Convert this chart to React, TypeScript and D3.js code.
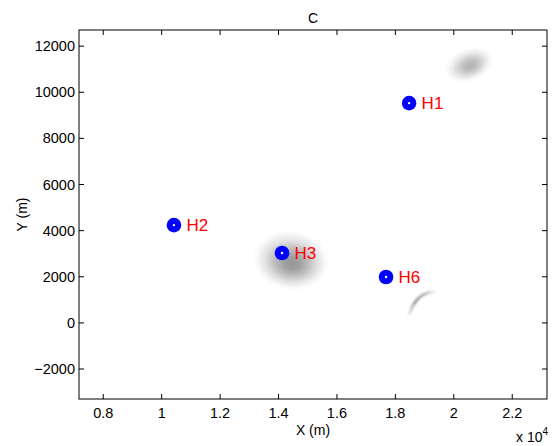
import * as d3 from 'd3'

// hydrophone / source positions in metres
const POINT_LABELS = ['H1', 'H2', 'H3', 'H6']
const POINT_X = [18470, 10420, 14120, 17680]
const POINT_Y = [9530, 4240, 3030, 1990]

// intensity blobs: centre, spread (m), peak grey, tilt (deg)
const BLOB_X = [14430, 20520]
const BLOB_Y = [2720, 11200]
const BLOB_SX = [1320, 880]
const BLOB_SY = [1300, 720]
const BLOB_PEAK = [0.56, 0.4]
const BLOB_TILT = [8, -22]

// thin crescent-shaped trace
const ARC_X = [18480, 18620, 18830, 19100, 19420]
const ARC_Y = [380, 800, 1120, 1300, 1370]

const X_TICKS = [8000, 10000, 12000, 14000, 16000, 18000, 20000, 22000]
const Y_TICKS = [-2000, 0, 2000, 4000, 6000, 8000, 10000, 12000]

const X_DOMAIN = [7170, 23190]
const Y_DOMAIN = [-3300, 12700]

export default function App() {
  const width = 555
  const height = 446
  const margin = { top: 30, right: 8, bottom: 47, left: 79 }
  const font = 'Liberation Sans, Arial, Helvetica, sans-serif'

  const x = d3.scaleLinear().domain(X_DOMAIN).range([margin.left, width - margin.right])
  const y = d3.scaleLinear().domain(Y_DOMAIN).range([height - margin.bottom, margin.top])
  const x0 = margin.left
  const x1 = width - margin.right
  const y0 = margin.top
  const y1 = height - margin.bottom
  const tick = 5

  const pxPerX = Math.abs(x(1000) - x(0)) / 1000
  const pxPerY = Math.abs(y(1000) - y(0)) / 1000

  const arcLine = d3
    .line<number>()
    .x(i => x(ARC_X[i]))
    .y(i => y(ARC_Y[i]))
    .curve(d3.curveCatmullRom.alpha(0.5))

  const arcStart = [x(ARC_X[0]), y(ARC_Y[0])]
  const arcEnd = [x(ARC_X[ARC_X.length - 1]), y(ARC_Y[ARC_Y.length - 1])]

  return (
    <svg
      width={width}
      height={height}
      style={{ position: 'absolute', left: 0, top: 0, background: '#fff' }}
      fontFamily={font}
    >
      <defs>
        {BLOB_X.map((_, i) => (
          <radialGradient key={i} id={`blob-${i}`} fx="52%" fy="56%">
            <stop offset="0%" stopColor="#444" stopOpacity={BLOB_PEAK[i]} />
            <stop offset="20%" stopColor="#444" stopOpacity={BLOB_PEAK[i] * 0.92} />
            <stop offset="45%" stopColor="#444" stopOpacity={BLOB_PEAK[i] * 0.62} />
            <stop offset="70%" stopColor="#444" stopOpacity={BLOB_PEAK[i] * 0.26} />
            <stop offset="88%" stopColor="#444" stopOpacity={BLOB_PEAK[i] * 0.07} />
            <stop offset="100%" stopColor="#444" stopOpacity={0} />
          </radialGradient>
        ))}
        <linearGradient
          id="arc-grad"
          gradientUnits="userSpaceOnUse"
          x1={arcStart[0]}
          y1={arcStart[1]}
          x2={arcEnd[0]}
          y2={arcEnd[1]}
        >
          <stop offset="0%" stopColor="#888" stopOpacity={0.2} />
          <stop offset="35%" stopColor="#888" stopOpacity={0.85} />
          <stop offset="70%" stopColor="#888" stopOpacity={0.6} />
          <stop offset="100%" stopColor="#888" stopOpacity={0} />
        </linearGradient>
        <filter id="soft" x="-50%" y="-50%" width="200%" height="200%">
          <feGaussianBlur stdDeviation="0.9" />
        </filter>
        <clipPath id="plot-clip">
          <rect x={x0} y={y0} width={x1 - x0} height={y1 - y0} />
        </clipPath>
      </defs>

      <g clipPath="url(#plot-clip)">
        {BLOB_X.map((bx, i) => (
          <ellipse
            key={`blob-${i}`}
            cx={x(bx)}
            cy={y(BLOB_Y[i])}
            rx={BLOB_SX[i] * pxPerX}
            ry={BLOB_SY[i] * pxPerY}
            fill={`url(#blob-${i})`}
            transform={`rotate(${BLOB_TILT[i]} ${x(bx)} ${y(BLOB_Y[i])})`}
          />
        ))}
        <path
          d={arcLine(d3.range(ARC_X.length)) ?? ''}
          fill="none"
          stroke="url(#arc-grad)"
          strokeWidth={3}
          strokeLinecap="round"
          filter="url(#soft)"
        />
      </g>

      {/* axes box */}
      <rect x={x0} y={y0} width={x1 - x0} height={y1 - y0} fill="none" stroke="#000" strokeWidth={1} />

      {X_TICKS.map(v => (
        <g key={`xt-${v}`}>
          <line x1={x(v)} x2={x(v)} y1={y1} y2={y1 - tick} stroke="#000" />
          <line x1={x(v)} x2={x(v)} y1={y0} y2={y0 + tick} stroke="#000" />
          <text x={x(v)} y={418} textAnchor="middle" fontSize={14.5}>
            {d3.format('~g')(v / 10000)}
          </text>
        </g>
      ))}

      {Y_TICKS.map(v => (
        <g key={`yt-${v}`}>
          <line x1={x0} x2={x0 + tick} y1={y(v)} y2={y(v)} stroke="#000" />
          <line x1={x1} x2={x1 - tick} y1={y(v)} y2={y(v)} stroke="#000" />
          <text x={x0 - 4} y={y(v) + 5} textAnchor="end" fontSize={14.5}>
            {v < 0 ? `\u2212${Math.abs(v)}` : v}
          </text>
        </g>
      ))}

      <text x={(x0 + x1) / 2} y={23} textAnchor="middle" fontSize={14}>
        C
      </text>
      <text x={(x0 + x1) / 2} y={435} textAnchor="middle" fontSize={14}>
        X (m)
      </text>
      <text
        transform={`translate(27 ${(y0 + y1) / 2}) rotate(-90)`}
        textAnchor="middle"
        fontSize={14}
      >
        Y (m)
      </text>
      <text x={516} y={442} fontSize={14}>
        x 10
        <tspan dy={-7} fontSize={10}>
          4
        </tspan>
      </text>

      {POINT_X.map((px, i) => (
        <g key={POINT_LABELS[i]}>
          <circle cx={x(px)} cy={y(POINT_Y[i])} r={7.3} fill="#0000ff" />
          <circle cx={x(px)} cy={y(POINT_Y[i])} r={1.2} fill="#fff" />
          <text
            x={x(px) + 12.5}
            y={y(POINT_Y[i]) + 6}
            fontSize={17}
            fill="#ff0000"
          >
            {POINT_LABELS[i]}
          </text>
        </g>
      ))}
    </svg>
  )
}
